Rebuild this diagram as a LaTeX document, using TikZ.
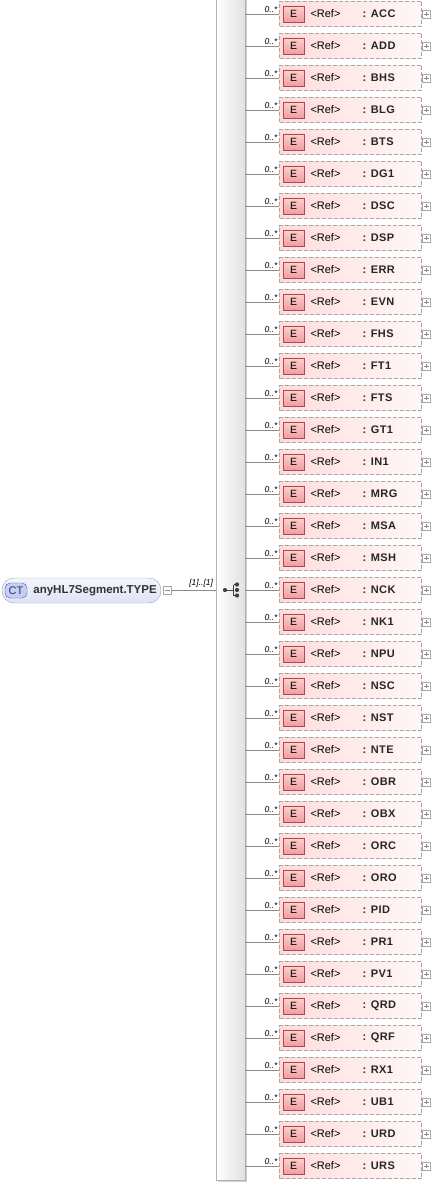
\documentclass[tikz,border=0pt]{standalone}
\usepackage{fontspec}
\setmainfont{Liberation Sans}
\newfontfamily\namefont[LetterSpace=4]{Liberation Sans}
\usetikzlibrary{positioning, shadows}

\definecolor{elemline}{HTML}{A8A8A8}
\definecolor{badgefill}{HTML}{F09C9C}
\definecolor{badgeline}{HTML}{B04A4A}
\definecolor{ctfill}{HTML}{DFE2F6}
\definecolor{ctline}{HTML}{9CA0B8}
\definecolor{ctbadgefill}{HTML}{C6CEF2}
\definecolor{ctbadgeline}{HTML}{4A5AA6}
\definecolor{wire}{HTML}{8C8C8C}

\begin{document}
\begin{tikzpicture}[
    x=1pt, y=-1pt,
    elem/.style={rectangle, draw=elemline, dash pattern=on 4pt off 2pt, left color=red!14, right color=red!3, minimum width=142pt, minimum height=25pt, inner sep=0pt},
    badge/.style={rectangle, draw=badgeline, top color=red!18, bottom color=badgefill, minimum width=21pt, minimum height=16pt, inner sep=0pt, font=\fontsize{10.5}{11}\selectfont},
    reftext/.style={inner sep=0pt, font=\fontsize{11}{12}\selectfont},
    nametext/.style={inner sep=0pt, font=\fontsize{11}{12}\namefont\bfseries, text=black!85},
    mult/.style={inner sep=1.5pt, font=\fontsize{8.5}{9}\selectfont\itshape},
    wire/.style={draw=wire, line width=0.7pt},
    seqbar/.style={rectangle, draw=black!30, left color=white, right color=black!12, minimum width=29pt, minimum height=1182pt, inner sep=0pt, drop shadow={shadow xshift=2pt, shadow yshift=-2pt, fill=black!18, opacity=1}},
    ctnode/.style={rectangle, rounded corners=12pt, draw=ctline, top color=ctfill!35, bottom color=ctfill, minimum width=159pt, minimum height=25pt, inner sep=0pt},
    ctbadge/.style={rectangle, rounded corners=5pt, draw=ctbadgeline, fill=ctbadgefill, minimum width=22pt, minimum height=15pt, inner sep=0pt, text=ctbadgeline!60!black, font=\fontsize{11}{12}\selectfont},
    cttext/.style={inner sep=0pt, font=\fontsize{11.5}{12}\selectfont\bfseries, text=black!80},
    plusbox/.style={rectangle, draw=black!35, fill=white, minimum size=8pt, inner sep=0pt,
        path picture={\draw[black!45] ([xshift=1.8pt]path picture bounding box.west) -- ([xshift=-1.8pt]path picture bounding box.east)
                                      ([yshift=-1.8pt]path picture bounding box.north) -- ([yshift=1.8pt]path picture bounding box.south);}},
    minusbox/.style={rectangle, draw=black!35, fill=white, minimum size=8pt, inner sep=0pt,
        path picture={\draw[black!45] ([xshift=1.8pt]path picture bounding box.west) -- ([xshift=-1.8pt]path picture bounding box.east);}}
]
\useasboundingbox (0,0) rectangle (432,1185);

\node[seqbar] (seq) at (230.5, 589) {};

% sequence symbol
\begin{scope}[shift={(seq.center)}, black!75]
  \fill (-5.5,1) circle (2.1pt);
  \draw[line width=1pt] (-5.5,1) -- (3,1) (3,-4.5) -- (3,6.5) (3,-4.5) -- (6.5,-4.5) (3,6.5) -- (6.5,6.5);
  \foreach \dy in {-4.5,1,6.5} \fill (6.5,\dy) circle (2.1pt);
\end{scope}

\node[ctnode] (ct) at (81.5, 590.5) {};
\node[ctbadge, right=3pt of ct.west] (ctb) {CT};
\node[cttext, right=6pt of ctb] (ctname) {anyHL7Segment.TYPE};
\node[minusbox, right=2pt of ct.east] (ctm) {};
\draw[wire] (ctm.east) -- (seq.west |- ctm.east) node[pos=1, above left, inner sep=2.5pt, font=\fontsize{8.5}{9}\selectfont\itshape] {[1]..[1]};

\foreach \name [count=\i] in {ACC,ADD,BHS,BLG,BTS,DG1,DSC,DSP,ERR,EVN,FHS,FT1,FTS,GT1,IN1,MRG,MSA,MSH,NCK,NK1,NPU,NSC,NST,NTE,OBR,OBX,ORC,ORO,PID,PR1,PV1,QRD,QRF,RX1,UB1,URD,URS} {
  \node[elem] (e\i) at (350.5, {14+32*(\i-1)}) {};
  \node[badge, right=3.5pt of e\i.west] (b\i) {E};
  \node[reftext, anchor=west] (r\i) at ([xshift=31pt]e\i.west) {<Ref>};
  \node[nametext, anchor=west] (n\i) at ([xshift=83pt]e\i.west) {: \name};
  \node[plusbox, anchor=west] (p\i) at ([xshift=0.5pt]e\i.east) {};
  \draw[wire] (seq.east |- e\i.west) -- (e\i.west) node[pos=1, above left, mult] {0..*};
}

\end{tikzpicture}
\end{document}
